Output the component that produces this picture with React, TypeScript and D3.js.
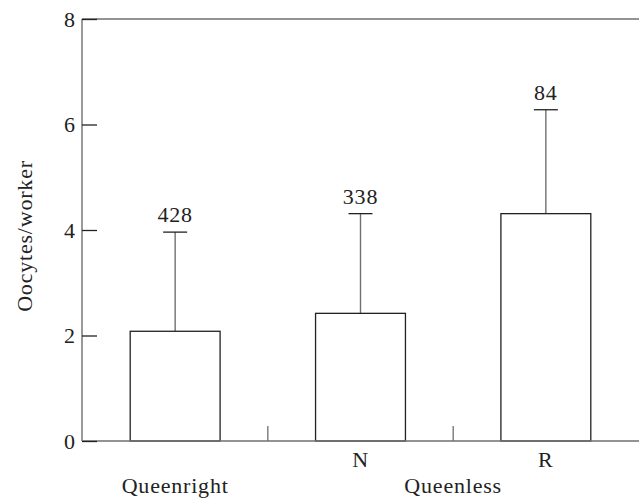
import React, { useEffect, useRef } from "react";
import * as d3 from "d3";

const categories = ["Queenright", "N", "R"];
const means = [2.08, 2.42, 4.31];
const errors = [1.88, 1.89, 1.97];
const sampleSizes = [428, 338, 84];
const subLabels = ["", "N", "R"];
const groups = [
  { label: "Queenright", members: ["Queenright"] },
  { label: "Queenless", members: ["N", "R"] },
];
const yTicks = [0, 2, 4, 6, 8];

const font = "Liberation Serif, Times New Roman, serif";
const fontSize = 22;
const spacing = 0.8;
const axisColor = "#6f6f6f";
const inkColor = "#222";

const App = () => {
  const ref = useRef<SVGGElement>(null);

  const width = 639,
    height = 499;
  const margin = { top: 19, right: 0, bottom: 58, left: 82 };
  const innerW = width - margin.left - margin.right;
  const innerH = height - margin.top - margin.bottom;

  const x = d3
    .scaleBand()
    .domain(categories)
    .range([0, innerW])
    .paddingInner(0.515)
    .paddingOuter(0.26);
  const y = d3.scaleLinear().domain([0, 8]).range([innerH, 0]);

  useEffect(() => {
    const g = d3.select(ref.current);

    // y axis with inward ticks
    const yAxis = g
      .select<SVGGElement>(".y-axis")
      .call(d3.axisRight(y).tickValues(yTicks).tickSize(15).tickFormat(() => ""));
    yAxis.select(".domain").remove();
    yAxis.selectAll(".tick line").attr("stroke", inkColor).attr("stroke-width", 1.3);

    yAxis
      .selectAll(".tick")
      .append("text")
      .attr("x", -7)
      .attr("dy", "0.34em")
      .attr("text-anchor", "end")
      .attr("fill", inkColor)
      .style("font-family", font)
      .style("font-size", fontSize + "px")
      .text((d) => String(d));
  }, []);

  const cx = (c: string) => (x(c) ?? 0) + x.bandwidth() / 2;
  const dividers = d3.pairs(categories).map(([a, b]) => (cx(a) + cx(b)) / 2);

  const textProps = {
    fontFamily: font,
    fontSize,
    letterSpacing: spacing,
    fill: inkColor,
    textAnchor: "middle" as const,
  };

  return (
    <svg
      width={width}
      height={height}
      style={{ position: "absolute", left: 0, top: 0, background: "#fff" }}
    >
      <g transform={`translate(${margin.left},${margin.top})`}>
        {/* frame lines */}
        <line x1={0} x2={innerW} y1={y(8)} y2={y(8)} stroke={axisColor} strokeWidth={1.4} />
        <line x1={0} x2={0} y1={y(0)} y2={y(8)} stroke={axisColor} strokeWidth={1.4} />

        {/* error bars */}
        {categories.map((c, i) => {
          const top = y(means[i] + errors[i]);
          return (
            <g key={"err" + c}>
              <line
                x1={cx(c)}
                x2={cx(c)}
                y1={y(means[i])}
                y2={top}
                stroke={axisColor}
                strokeWidth={1.4}
              />
              <line
                x1={cx(c) - 12}
                x2={cx(c) + 12}
                y1={top}
                y2={top}
                stroke={inkColor}
                strokeWidth={1.3}
              />
              <text x={cx(c)} y={top - 10} {...textProps}>
                {sampleSizes[i]}
              </text>
            </g>
          );
        })}

        {/* bars */}
        {categories.map((c, i) => (
          <rect
            key={"bar" + c}
            x={x(c)}
            y={y(means[i])}
            width={x.bandwidth()}
            height={y(0) - y(means[i])}
            fill="#fff"
            stroke={inkColor}
            strokeWidth={1.3}
          />
        ))}

        {/* x axis */}
        <line x1={0} x2={innerW} y1={y(0)} y2={y(0)} stroke={axisColor} strokeWidth={1.4} />
        {dividers.map((d, i) => (
          <line
            key={"div" + i}
            x1={d}
            x2={d}
            y1={y(0)}
            y2={y(0) - 15}
            stroke={axisColor}
            strokeWidth={1.3}
          />
        ))}

        <g ref={ref}>
          <g className="y-axis" />
        </g>

        {/* sub labels */}
        {categories.map((c, i) =>
          subLabels[i] ? (
            <text key={"sub" + c} x={cx(c)} y={y(0) + 26} {...textProps}>
              {subLabels[i]}
            </text>
          ) : null
        )}

        {/* group labels */}
        {groups.map((gr) => {
          const xs = gr.members.map(cx);
          const mid = (d3.min(xs)! + d3.max(xs)!) / 2;
          return (
            <text key={gr.label} x={mid} y={y(0) + 52} {...textProps}>
              {gr.label}
            </text>
          );
        })}

        {/* y label */}
        <text
          transform={`translate(${-50},${innerH / 2 + 6}) rotate(-90)`}
          {...textProps}
        >
          Oocytes/worker
        </text>
      </g>
    </svg>
  );
};

export default App;
